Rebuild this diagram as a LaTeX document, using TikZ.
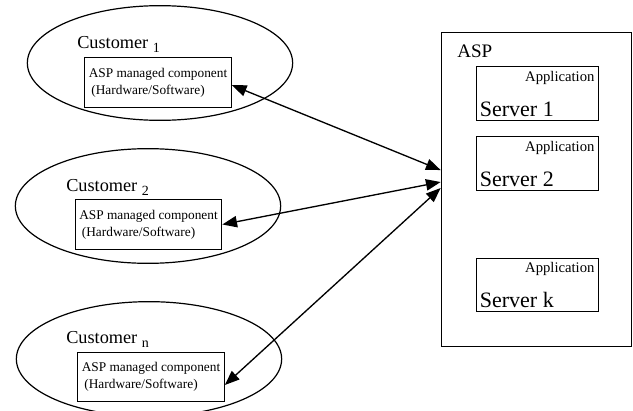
\documentclass[tikz,border=0pt]{standalone}
\usepackage{fontspec}
\setmainfont{Liberation Serif}
\usetikzlibrary{shapes.geometric,arrows.meta}

\newcommand{\custsub}[1]{\raisebox{-3pt}{\fontsize{10.5}{12}\selectfont #1}}

\begin{document}
\begin{tikzpicture}[x=0.75pt,y=-0.75pt,
    customer/.style={draw,ellipse,line width=0.9pt,minimum width=199pt,minimum height=86pt},
    component/.style={draw,line width=0.8pt,minimum width=110pt,minimum height=37pt,
      align=left,inner sep=2pt,font=\fontsize{10}{12.5}\selectfont},
    appserver/.style={draw,line width=0.8pt,minimum width=92pt,minimum height=40pt},
    custlabel/.style={anchor=base west,inner sep=0pt,font=\fontsize{13.7}{16}\selectfont},
    link/.style={line width=1pt,{Triangle[length=11pt,width=8.5pt]}-{Triangle[length=11pt,width=8.5pt]}}]
    \useasboundingbox (0,0) rectangle (633,411);
    % Definitions:
    \node[customer] (cust1) at (160,63) {};
    \node[customer] (cust2) at (148,206) {};
    \node[customer] (custn) at (149,359) {};
    \node[component] (comp1) at (158,82.5) {ASP managed component\\\hspace{2pt}(Hardware/Software)};
    \node[component] (comp2) at (148.5,224.5) {ASP managed component\\\hspace{2pt}(Hardware/Software)};
    \node[component] (compn) at (151,377) {ASP managed component\\\hspace{2pt}(Hardware/Software)};
    \node[draw,line width=0.8pt,minimum width=143pt,minimum height=235pt] (asp) at (536.5,189.5) {};
    \foreach \y/\k in {93.5/1,163.5/2,285/k}{
      \node[appserver] (srv\k) at (537.5,\y) {};
      \node[anchor=north east,inner sep=3.5pt,font=\fontsize{11}{13}\selectfont] at (srv\k.north east) {Application};
      \node[anchor=south west,inner sep=3pt,font=\fontsize{16.5}{18}\selectfont] at (srv\k.south west) {Server \k};
    }
    \coordinate (in1) at ([yshift=14.6pt]asp.west);
    \coordinate (in2) at ([yshift=5.6pt]asp.west);
    \coordinate (inn) at ([yshift=1.1pt]asp.west);
    % Drawing:
    \draw[link] ([yshift=-2pt]comp1.east) -- (in1);
    \draw[link] (comp2.east) -- (in2);
    \draw[link] ([yshift=-6pt]compn.east) -- (inn);
    % Labels:
    \node[custlabel] (lab1) at (77,48) {Customer \custsub{1}};
    \node[custlabel] (lab2) at (66,191) {Customer \custsub{2}};
    \node[custlabel] (labn) at (66,343) {Customer \custsub{n}};
    \node[anchor=base west,inner sep=0pt,font=\fontsize{14.3}{16}\selectfont] (asplab) at (457,57) {ASP};
\end{tikzpicture}
\end{document}
